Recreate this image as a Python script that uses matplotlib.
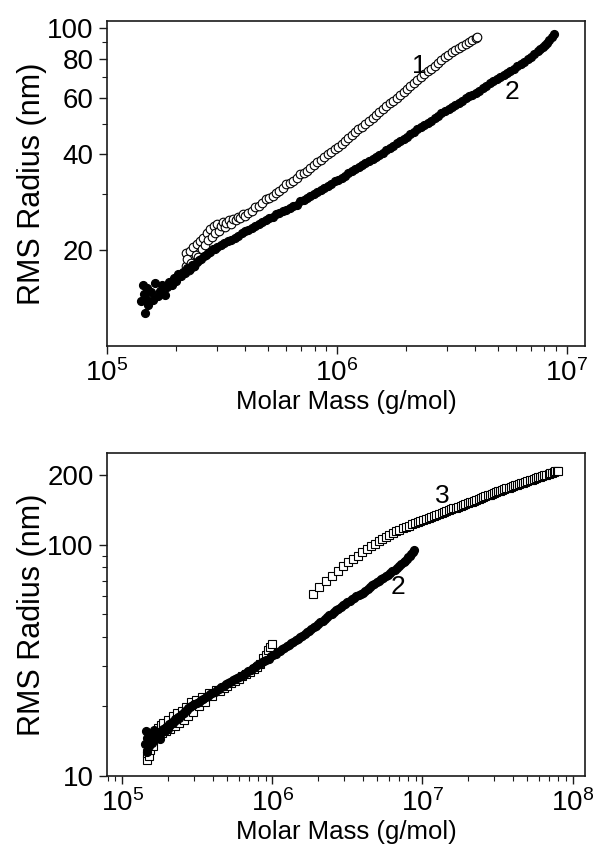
#!/usr/bin/env python3
"""
RMS radius vs molar mass (conformation plot), two panels
"""

import numpy as np
import matplotlib
matplotlib.use('Agg')
import matplotlib.pyplot as plt
from matplotlib.ticker import FixedLocator, FixedFormatter, LogLocator, NullFormatter

plt.rcParams['font.family'] = ['Liberation Sans', 'DejaVu Sans']
plt.rcParams['mathtext.fontset'] = 'custom'
plt.rcParams['mathtext.rm'] = 'Liberation Sans'
plt.rcParams['mathtext.default'] = 'regular'

# molar mass in units of 1e5 g/mol, radius in nm

# sample 1 (open circles)
mass1 = [2.20, 2.21, 2.24, 2.27, 2.30, 2.33, 2.37, 2.40, 2.43, 2.47,
         2.50, 2.54, 2.58, 2.62, 2.67, 2.71, 2.75, 2.81, 2.86, 2.91,
         2.96, 3.02, 3.08, 3.13, 3.19, 3.25, 3.31, 3.39, 3.47, 3.55,
         3.63, 3.72, 3.80, 3.89, 3.98, 4.12, 4.27, 4.42, 4.57, 4.73,
         4.90, 5.07, 5.25, 5.43, 5.62, 5.82, 6.03, 6.24, 6.46, 6.68,
         6.92, 7.16, 7.41, 7.67, 7.94, 8.22, 8.51, 8.81, 9.12, 9.44,
         9.77, 10.1, 10.5, 10.8, 11.2, 11.6, 12.0, 12.4, 12.9, 13.3,
         13.8, 14.3, 14.8, 15.3, 15.8, 16.4, 17.0, 17.6, 18.2, 18.8,
         19.5, 20.2, 20.9, 21.6, 22.4, 23.2, 24.0, 24.8, 25.7, 26.6,
         27.5, 28.5, 29.5, 30.5, 31.6, 32.7, 33.9, 35.1, 36.3, 37.6,
         38.9, 40.1, 40.7]
rg1 = [19.6, 17.9, 18.8, 17.3, 19.9, 18.2, 20.5, 17.8, 19.3, 20.9,
       19.0, 21.4, 20.2, 21.9, 20.8, 22.6, 21.5, 23.3, 22.0, 23.9,
       22.7, 24.2, 23.0, 23.8, 24.5, 23.6, 24.3, 24.9, 24.2, 25.0,
       24.8, 25.5, 25.2, 25.9, 25.6, 26.1, 26.6, 27.4, 27.6, 28.1,
       28.9, 29.2, 29.6, 30.3, 30.7, 31.3, 32.3, 32.5, 33.0, 33.8,
       34.6, 34.9, 35.4, 36.3, 37.1, 37.8, 38.5, 39.2, 40.0, 40.8,
       41.5, 42.3, 43.2, 44.1, 45.1, 46.0, 46.9, 47.9, 48.9, 49.9,
       50.9, 52.0, 53.0, 54.3, 55.4, 56.6, 57.8, 59.0, 60.3, 61.6,
       62.9, 64.3, 65.6, 67.0, 68.5, 69.9, 71.4, 72.9, 74.4, 75.9,
       77.5, 79.1, 80.7, 82.2, 83.6, 85.0, 86.3, 87.6, 88.8, 90.2,
       91.6, 93.0, 93.5]

# sample 2 (filled circles), shown in both panels
mass2 = [1.41, 1.43, 1.45, 1.46, 1.48, 1.50, 1.51, 1.55, 1.58, 1.62,
         1.66, 1.70, 1.74, 1.78, 1.82, 1.86, 1.91, 1.95, 2.00, 2.04,
         2.09, 2.14, 2.19, 2.24, 2.29, 2.34, 2.40, 2.46, 2.51, 2.57,
         2.63, 2.69, 2.75, 2.82, 2.88, 2.95, 3.02, 3.13, 3.24, 3.35,
         3.47, 3.59, 3.72, 3.85, 3.98, 4.12, 4.27, 4.42, 4.57, 4.73,
         4.90, 5.07, 5.25, 5.43, 5.62, 5.82, 6.03, 6.24, 6.46, 6.68,
         6.92, 7.16, 7.41, 7.67, 7.94, 8.22, 8.51, 8.81, 9.12, 9.44,
         9.77, 10.1, 10.5, 10.8, 11.2, 11.6, 12.0, 12.5, 12.9, 13.3,
         13.8, 14.3, 14.8, 15.3, 15.8, 16.4, 17.0, 17.6, 18.2, 18.8,
         19.5, 20.2, 20.9, 21.6, 22.4, 23.2, 24.0, 24.8, 25.7, 26.6,
         27.5, 28.5, 29.5, 30.6, 31.6, 32.7, 33.9, 35.1, 36.3, 37.6,
         38.9, 40.3, 41.7, 43.2, 44.7, 46.2, 47.9, 49.6, 51.3, 53.1,
         55.0, 56.9, 58.9, 61.0, 63.1, 65.3, 67.6, 70.0, 72.4, 75.0,
         76.7, 78.5, 80.4, 82.2, 84.1, 86.1, 88.1]
rg2 = [13.8, 15.6, 14.6, 12.7, 14.1, 15.2, 13.5, 14.8, 13.9, 15.8,
       14.4, 14.9, 15.5, 14.5, 15.3, 15.9, 15.6, 16.3, 16.0, 16.8,
       16.6, 17.1, 16.9, 17.6, 17.4, 18.0, 17.9, 18.4, 18.6, 18.8,
       19.2, 19.3, 19.6, 19.8, 20.1, 20.2, 20.5, 20.7, 21.0, 21.3,
       21.6, 21.9, 22.2, 22.6, 22.9, 23.2, 23.5, 23.9, 24.2, 24.6,
       24.9, 25.2, 25.5, 25.9, 26.2, 26.5, 26.8, 27.2, 27.5, 27.8,
       28.5, 28.8, 29.2, 29.6, 30.1, 30.5, 31.0, 31.4, 31.8, 32.2,
       32.9, 33.3, 33.8, 34.3, 34.9, 35.4, 35.9, 36.4, 37.0, 37.5,
       38.1, 38.6, 39.2, 39.8, 40.5, 41.2, 41.9, 42.6, 43.4, 44.1,
       44.7, 45.5, 46.2, 47.0, 47.9, 48.6, 49.5, 50.3, 51.1, 52.1,
       52.9, 53.8, 54.7, 55.7, 56.5, 57.3, 58.2, 59.0, 60.0, 60.9,
       61.3, 62.2, 63.3, 64.5, 65.6, 66.8, 67.9, 69.0, 70.0, 71.1,
       72.2, 73.3, 74.4, 75.6, 76.9, 78.2, 79.5, 81.0, 82.6, 84.5,
       85.6, 86.9, 88.5, 89.8, 91.3, 93.2, 95.5]

# sample 3 (open squares)
mass3 = [1.45, 1.46, 1.48, 1.50, 1.53, 1.57, 1.60, 1.64, 1.68, 1.72,
         1.76, 1.80, 1.84, 1.88, 1.95, 2.02, 2.09, 2.16, 2.24, 2.32,
         2.40, 2.48, 2.57, 2.66, 2.75, 2.85, 2.95, 3.09, 3.24, 3.39,
         3.55, 3.76, 3.98, 4.22, 4.47, 4.73, 5.01, 5.31, 5.62, 5.96,
         6.31, 6.68, 7.08, 7.50, 7.94, 8.32, 8.71, 9.02, 9.33, 9.66,
         10.0,
         18.6, 20.6, 22.7, 24.9, 27.2, 29.5, 31.9, 34.4, 37.0, 39.6,
         42.4, 45.2,
         48.1, 51.1, 54.1, 57.1, 60.3, 63.5, 66.8, 70.3, 73.8, 77.4,
         81.1, 84.9, 88.7, 92.7, 96.8, 101, 105, 110, 114, 119,
         124, 129, 134, 139, 144, 150, 155, 161, 167, 173,
         180, 186, 193, 200,
         207, 214, 221, 229, 237, 245, 254, 263, 272, 281,
         290, 299, 309, 319, 330, 340, 352, 363, 375, 387,
         400, 413, 427, 441, 455, 470, 485, 501, 518, 535,
         552, 570, 589, 608, 628, 649, 670, 692, 711, 731,
         752, 769, 787, 805]
rg3 = [11.7, 12.6, 13.6, 12.2, 13.0, 14.2, 13.5, 15.3, 14.6, 16.1,
       15.0, 16.6, 15.4, 16.9, 15.6, 17.4, 15.9, 18.2, 16.4, 18.7,
       16.9, 19.2, 17.4, 19.9, 18.2, 20.8, 19.0, 21.4, 20.0, 21.9,
       21.0, 22.8, 22.2, 23.6, 23.3, 24.0, 24.6, 25.2, 25.7, 26.4,
       27.0, 27.6, 28.3, 28.9, 29.6, 30.6, 32.3, 33.5, 35.0, 36.2,
       37.2,
       61.5, 65.5, 69.5, 73.5, 77.5, 81.0, 84.0, 87.0, 90.0, 92.8,
       95.8, 98.5,
       101.0, 103.5, 105.8, 108.0, 110.2, 112.4, 114.5, 116.3, 118.0, 119.7,
       121.3, 122.8, 124.2, 125.6, 127.0, 128.3, 129.6, 130.9, 132.1, 133.3,
       134.5, 136.0, 137.4, 138.7, 140.0, 141.3, 142.6, 143.9, 145.2, 146.5,
       147.8, 149.0, 150.2, 151.5,
       152.8, 154.1, 155.5, 156.8, 158.1, 159.5, 161.0, 162.4, 163.7, 165.1,
       166.4, 167.7, 169.0, 170.4, 171.7, 173.0, 174.4, 175.8, 177.1, 178.5,
       180.0, 181.3, 182.5, 183.8, 185.0, 186.3, 187.5, 189.0, 190.3, 191.7,
       193.1, 194.5, 195.9, 197.3, 198.7, 200.0, 201.5, 203.0, 204.3, 205.8,
       207.3, 208.5, 209.5, 209.5]

# curve labels: (text, mass, radius)
labels_top = [('1', 2.28e6, 76), ('2', 5.8e6, 63)]
labels_bottom = [('3', 1.36e7, 163), ('2', 6.9e6, 66)]

AXIS_COLOR = '#1a1a1a'


def style_axes(ax, y_major, y_minor):
    ax.set_xscale('log')
    ax.set_yscale('log')
    ax.xaxis.set_major_locator(LogLocator(base=10))
    ax.xaxis.set_minor_locator(LogLocator(base=10, subs=np.arange(2, 10)))
    ax.xaxis.set_minor_formatter(NullFormatter())
    ax.yaxis.set_major_locator(FixedLocator(y_major))
    ax.yaxis.set_major_formatter(FixedFormatter([str(v) for v in y_major]))
    ax.yaxis.set_minor_locator(FixedLocator(y_minor))
    ax.yaxis.set_minor_formatter(NullFormatter())
    ax.tick_params(which='both', direction='out', top=False, right=False,
                   color=AXIS_COLOR, labelsize=20)
    ax.tick_params(which='major', length=6, width=1.0, pad=3.5)
    ax.tick_params(which='minor', length=3.5, width=0.8)
    for spine in ax.spines.values():
        spine.set_linewidth(1.2)
        spine.set_color(AXIS_COLOR)
    ax.set_xlabel('Molar Mass (g/mol)', fontsize=18.5)
    ax.set_ylabel('RMS Radius (nm)', fontsize=22)
    ax.xaxis.set_label_coords(0.5, -0.135)
    ax.yaxis.set_label_coords(-0.125, 0.5)


m1 = np.array(mass1) * 1e5
m2 = np.array(mass2) * 1e5
m3 = np.array(mass3) * 1e5

fig = plt.figure(figsize=(5.93, 8.56), dpi=100)

# top panel
ax1 = fig.add_axes([0.1804, 0.5958, 0.806, 0.3797])
ax1.plot(m1, rg1, 'o', ms=6.2, mfc='white', mec='black', mew=0.8, ls='none')
ax1.plot(m2, rg2, 'o', ms=5.6, mfc='black', mec='black', ls='none')
style_axes(ax1, [20, 40, 60, 80, 100], [30, 50, 70, 90])
ax1.set_xlim(1e5, 1.2e7)
ax1.set_ylim(10, 105)
for txt, x, y in labels_top:
    ax1.text(x, y, txt, fontsize=19, ha='center', va='center')

# bottom panel
ax2 = fig.add_axes([0.1804, 0.0935, 0.806, 0.3773])
ax2.plot(m3, rg3, 's', ms=5.8, mfc='white', mec='black', mew=0.8, ls='none')
ax2.plot(m2, rg2, 'o', ms=5.6, mfc='black', mec='black', ls='none')
style_axes(ax2, [10, 100, 200], [20, 30, 40, 50, 60, 70, 80, 90])
ax2.set_xlim(7.9e4, 1.21e8)
ax2.set_ylim(10, 250)
for txt, x, y in labels_bottom:
    ax2.text(x, y, txt, fontsize=19, ha='center', va='center')

fig.savefig('out.png', dpi=100)
